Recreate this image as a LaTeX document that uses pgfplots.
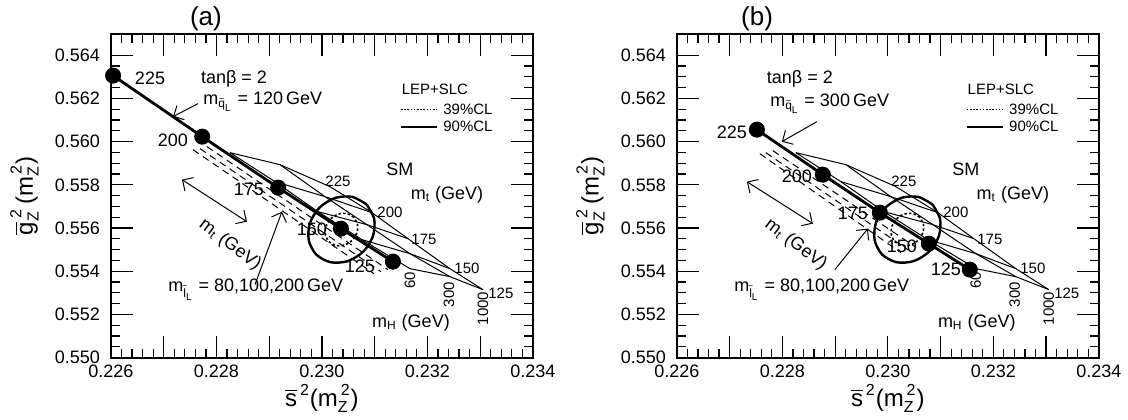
\documentclass[border=0pt]{standalone}
\usepackage{fontspec}
\setmainfont{Liberation Sans}
\usepackage{amsmath}
\usepackage{pgfplots}
\pgfplotsset{compat=1.18}
\usetikzlibrary{arrows.meta}
\newcommand{\fs}[1]{\fontsize{#1}{#1}\selectfont}
\newcommand{\mq}{m$_{\tilde{\text{q}}_{\text{L}}}$}
\newcommand{\ml}{m$_{\tilde{\text{l}}_{\text{L}}}$}

\pgfplotsset{myax/.style={
  scale only axis, width=211pt, height=162pt,
  xmin=0.226, xmax=0.234, ymin=0.550, ymax=0.565,
  xtick={0.226,0.227,0.228,0.229,0.230,0.231,0.232,0.233,0.234},
  xticklabels={0.226,,0.228,,0.230,,0.232,,0.234},
  ytick={0.550,0.552,0.554,0.556,0.558,0.560,0.562,0.564},
  yticklabels={0.550,0.552,0.554,0.556,0.558,0.560,0.562,0.564},
  minor x tick num=4, minor y tick num=3,
  tick align=inside, major tick length=11pt, minor tick length=4.5pt,
  axis line style={line width=1pt},
  every tick/.style={black, line width=0.6pt},
  tick label style={font=\fs{9}},
  yticklabel style={xshift=-2pt},
  scaled ticks=false, clip=false,
  xlabel={$\overline{\text{s}}^{\,\text{2}}\text{(m}_{\text{Z}}^{\,\text{2}}\text{)}$},
  ylabel={$\overline{\text{g}}_{\text{Z}}^{\,\text{2}}\text{\,(m}_{\text{Z}}^{\,\text{2}}\text{)}$},
  xlabel style={at={(axis description cs:0.5,-0.125)}, anchor=center, font=\fs{12}},
  ylabel style={at={(axis description cs:-0.205,0.5)}, anchor=center, font=\fs{12}},
}}

\newcommand{\smgrid}{%
\addplot[black, line width=0.5pt] coordinates {(0.228256,0.559491) (0.229109,0.558148) (0.229924,0.556759) (0.230758,0.555463) (0.231668,0.554120)};
\addplot[black, line width=0.5pt] coordinates {(0.229204,0.558935) (0.230057,0.557454) (0.230853,0.556157) (0.231668,0.554815) (0.232426,0.553750)};
\addplot[black, line width=0.5pt] coordinates {(0.230152,0.557917) (0.230948,0.556713) (0.231630,0.555509) (0.232426,0.554120) (0.233052,0.553148)};
\addplot[black, line width=0.5pt] coordinates {(0.228256,0.559491) (0.229204,0.558935) (0.230152,0.557917)};
\addplot[black, line width=0.5pt] coordinates {(0.229109,0.558148) (0.230057,0.557454) (0.230948,0.556713)};
\addplot[black, line width=0.5pt] coordinates {(0.229924,0.556759) (0.230853,0.556157) (0.231630,0.555509)};
\addplot[black, line width=0.5pt] coordinates {(0.230758,0.555463) (0.231668,0.554815) (0.232426,0.554120)};
\addplot[black, line width=0.5pt] coordinates {(0.231668,0.554120) (0.232426,0.553750) (0.233052,0.553148)};
% 90% CL ellipse
\addplot[black, line width=1.2pt, smooth] coordinates {(0.230846,0.557092) (0.230574,0.557444) (0.230248,0.557390) (0.229954,0.556945) (0.229772,0.556228) (0.229750,0.555431) (0.229894,0.554768) (0.230166,0.554416) (0.230492,0.554470) (0.230786,0.554915) (0.230968,0.555632) (0.230990,0.556429) (0.230846,0.557092)};
% 39% CL ellipse
\addplot[black, line width=0.8pt, dash pattern=on 1.2pt off 1.1pt, smooth] coordinates {(0.230603,0.556499) (0.230470,0.556672) (0.230310,0.556645) (0.230166,0.556427) (0.230077,0.556076) (0.230066,0.555685) (0.230137,0.555361) (0.230270,0.555188) (0.230430,0.555215) (0.230574,0.555433) (0.230663,0.555784) (0.230674,0.556175) (0.230603,0.556499)};
% legend
\addplot[black, line width=0.6pt, dash pattern=on 0.8pt off 0.8pt] coordinates {(0.231498,0.561481) (0.232180,0.561481)};
\addplot[black, line width=1pt] coordinates {(0.231498,0.560694) (0.232180,0.560694)};
\node[font=\fs{7.5}] at (axis cs:0.232142,0.562407) {LEP+SLC};
\node[font=\fs{7.5}, anchor=west, inner sep=0pt] at (axis cs:0.232294,0.561481) {39\%CL};
\node[font=\fs{7.5}, anchor=west, inner sep=0pt] at (axis cs:0.232294,0.560694) {90\%CL};
% SM labels
\node[font=\fs{9}] at (axis cs:0.231479,0.558704) {SM};
\node[font=\fs{9}] at (axis cs:0.232370,0.557546) {m$_\text{t}$ (GeV)};
\node[font=\fs{7.5}] at (axis cs:0.230303,0.558148) {225};
\node[font=\fs{7.5}] at (axis cs:0.231289,0.556713) {200};
\node[font=\fs{7.5}] at (axis cs:0.231934,0.555463) {175};
\node[font=\fs{7.5}] at (axis cs:0.232749,0.554120) {150};
\node[font=\fs{7.5}] at (axis cs:0.233393,0.552963) {125};
\node[font=\fs{7.5}, rotate=90] at (axis cs:0.231668,0.553565) {60};
\node[font=\fs{7.5}, rotate=90] at (axis cs:0.232407,0.552917) {300};
\node[font=\fs{7.5}, rotate=90] at (axis cs:0.233052,0.552269) {1000};
\node[font=\fs{9}] at (axis cs:0.231687,0.551620) {m$_\text{H}$ (GeV)};
\node[font=\fs{9}] at (axis cs:0.228332,0.562920) {tanβ = 2};
\node[font=\fs{9}, rotate=-37] at (axis cs:0.228256,0.555231) {m$_\text{t}$ (GeV)};
\node[font=\fs{9}, anchor=west, inner sep=0pt] at (axis cs:0.227081,0.553148) {\ml\ = 80,100,200\,GeV};
}

\begin{document}
\begin{tikzpicture}
\begin{axis}[myax]
\smgrid
\addplot[black, line width=0.5pt, dash pattern=on 3.5pt off 2.5pt] coordinates {(0.227820,0.559769) (0.231251,0.554074)};
\addplot[black, line width=0.5pt, dash pattern=on 3.5pt off 2.5pt] coordinates {(0.227687,0.559676) (0.231118,0.553981)};
\addplot[black, line width=0.5pt, dash pattern=on 3.5pt off 2.5pt] coordinates {(0.227554,0.559630) (0.230986,0.553889)};
\addplot[black, line width=1.4pt, mark=*, mark size=3.3pt] coordinates {(0.22604,0.56306) (0.22773,0.560231) (0.22917,0.557870) (0.230360,0.555972) (0.231346,0.554444)};
\node[font=\fs{9}] at (axis cs:0.22674,0.56292) {225};
\node[font=\fs{9}] at (axis cs:0.227175,0.560046) {200};
\node[font=\fs{9}] at (axis cs:0.228616,0.557778) {175};
\node[font=\fs{9}] at (axis cs:0.229810,0.555926) {150};
\node[font=\fs{9}] at (axis cs:0.230720,0.554213) {125};
\node[font=\fs{9}, anchor=west, inner sep=0pt] at (axis cs:0.227744,0.561852) {\mq\ = 120\,GeV};
\addplot[black, line width=0.5pt, -{Straight Barb[length=4pt]}] coordinates {(0.227649,0.561759) (0.227175,0.561157)};
\addplot[black, line width=0.5pt, {Straight Barb[length=4pt]}-{Straight Barb[length=4pt]}] coordinates {(0.227346,0.558241) (0.228578,0.556296)};
\addplot[black, line width=0.5pt, -{Straight Barb[length=4pt]}] coordinates {(0.228730,0.553380) (0.229242,0.556759)};
\node[font=\fs{13}] at (axis description cs:0.225,1.046) {(a)};
\end{axis}
\begin{axis}[myax, at={(283pt,0pt)}]
\smgrid
\addplot[black, line width=0.5pt, dash pattern=on 3.5pt off 2.5pt] coordinates {(0.227820,0.559583) (0.230512,0.555139)};
\addplot[black, line width=0.5pt, dash pattern=on 3.5pt off 2.5pt] coordinates {(0.227687,0.559491) (0.230379,0.555000)};
\addplot[black, line width=0.5pt, dash pattern=on 3.5pt off 2.5pt] coordinates {(0.227573,0.559444) (0.230246,0.554861)};
\addplot[black, line width=1.4pt, mark=*, mark size=3.3pt] coordinates {(0.227517,0.560556) (0.228768,0.558472) (0.229848,0.556713) (0.230777,0.555278) (0.231554,0.554074)};
\node[font=\fs{9}] at (axis cs:0.227043,0.560417) {225};
\node[font=\fs{9}] at (axis cs:0.228275,0.558380) {200};
\node[font=\fs{9}] at (axis cs:0.229336,0.556667) {175};
\node[font=\fs{9}] at (axis cs:0.230265,0.555139) {150};
\node[font=\fs{9}] at (axis cs:0.231099,0.554074) {125};
\node[font=\fs{9}, anchor=west, inner sep=0pt] at (axis cs:0.227763,0.561759) {\mq\ = 300\,GeV};
\addplot[black, line width=0.5pt, -{Straight Barb[length=4pt]}] coordinates {(0.228654,0.560926) (0.227990,0.560000)};
\addplot[black, line width=0.5pt, {Straight Barb[length=4pt]}-{Straight Barb[length=4pt]}] coordinates {(0.227327,0.558148) (0.228578,0.556204)};
\addplot[black, line width=0.5pt, -{Straight Barb[length=4pt]}] coordinates {(0.228995,0.554074) (0.229621,0.555972)};
\node[font=\fs{13}] at (axis description cs:0.19,1.046) {(b)};
\end{axis}
\path[use as bounding box] (-55.5pt,-28.5pt) rectangle (508.5pt,175.5pt);
\end{tikzpicture}
\end{document}
